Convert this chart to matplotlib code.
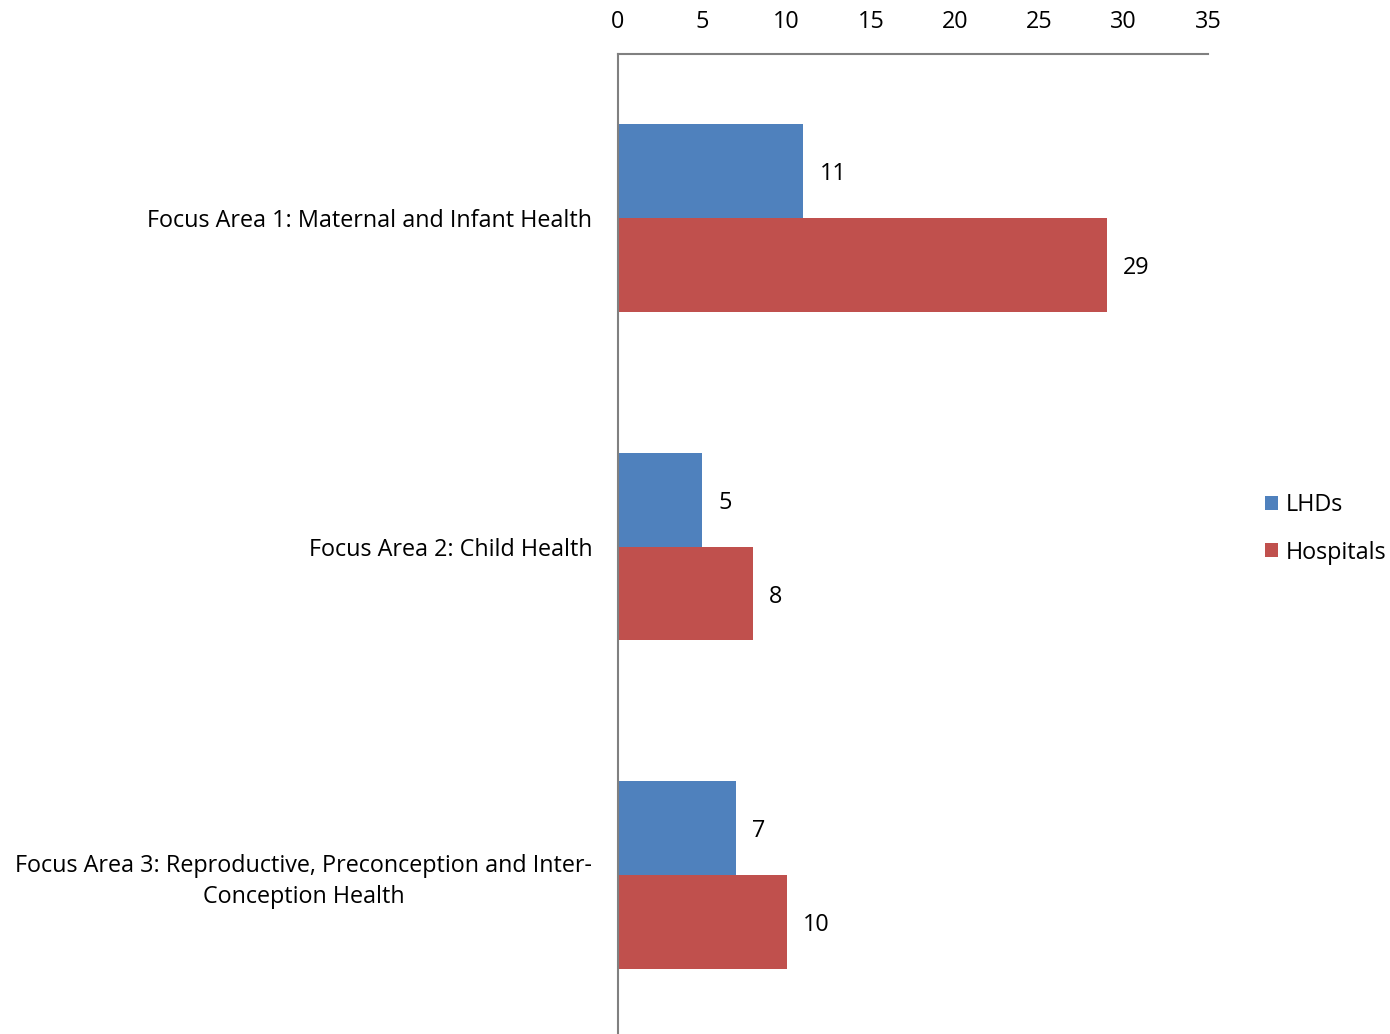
import numpy as np
import matplotlib.pyplot as plt

# data
categories = ['Focus Area 1: Maternal and Infant Health',
              'Focus Area 2: Child Health',
              'Focus Area 3: Reproductive, Preconception and Inter-\nConception Health']
lhds = [11, 5, 7]
hospitals = [29, 8, 10]
series_names = ['LHDs', 'Hospitals']
colors = ['#4F81BD', '#C0504D']

plt.rcParams['font.family'] = ['Open Sans', 'DejaVu Sans']

fig = plt.figure(figsize=(13.9, 10.34), dpi=100)
ax = fig.add_axes([618 / 1390, -5 / 1034, 590 / 1390, 985 / 1034])

y = np.arange(len(categories))
h = 0.286
b1 = ax.barh(y - h / 2, lhds, height=h, color=colors[0], label=series_names[0])
b2 = ax.barh(y + h / 2, hospitals, height=h, color=colors[1], label=series_names[1])

for bars, vals in [(b1, lhds), (b2, hospitals)]:
    for bar, v in zip(bars, vals):
        ax.text(v + 0.95, bar.get_y() + bar.get_height() / 2 + 0.01, str(v),
                va='center', ha='left', fontsize=16.8)

ax.set_xlim(0, 35)
ax.set_ylim(2.5, -0.5)
ax.set_xticks(range(0, 36, 5))
ax.xaxis.tick_top()
ax.tick_params(axis='x', length=0, pad=14.5, labelsize=16.8)
ax.tick_params(axis='y', length=0, pad=18.5, labelsize=16.8)
ax.set_yticks(y)
ax.set_yticklabels(categories, ha='right', multialignment='center', linespacing=1.4)

for s in ['right', 'bottom']:
    ax.spines[s].set_visible(False)
for s in ['top', 'left']:
    ax.spines[s].set_color('#808080')
    ax.spines[s].set_linewidth(1.5)

fig.legend(loc='center left', bbox_to_anchor=(1260 / 1390, 1 - 529 / 1034),
           frameon=False, fontsize=16.8, handlelength=0.55, handleheight=0.55,
           handletextpad=0.35, labelspacing=1.0, borderaxespad=0, borderpad=0.2)

fig.savefig('out.png', dpi=100)
